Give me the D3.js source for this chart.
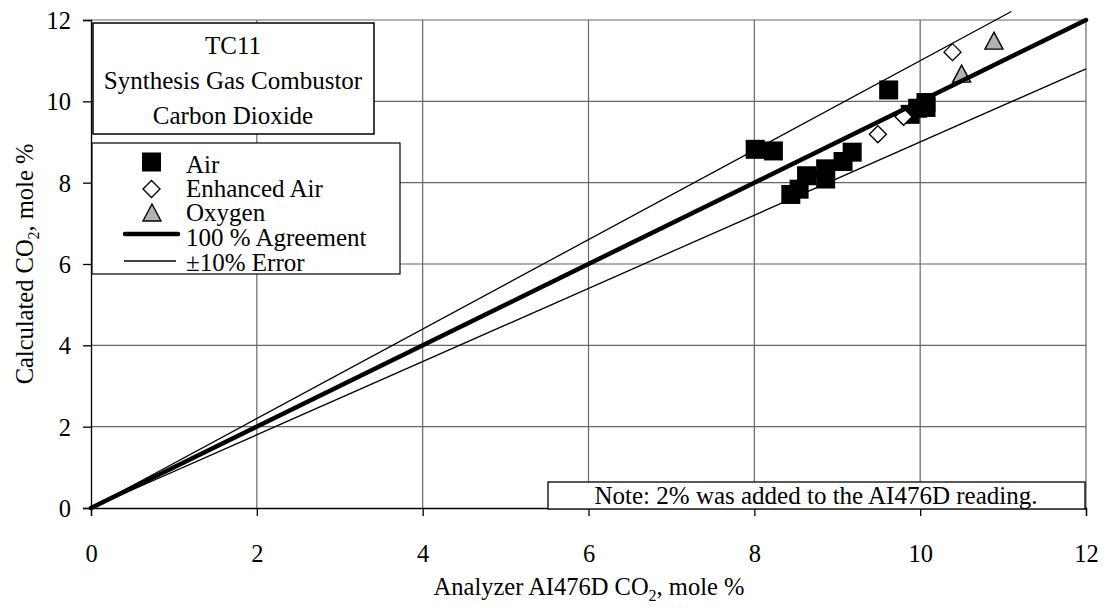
<!DOCTYPE html>
<html>
<head>
<meta charset="utf-8">
<script src="https://cdn.jsdelivr.net/npm/d3@7"></script>
<style>
  body { margin: 0; background: #fff; }
  text { font-family: "Liberation Serif", "Times New Roman", Times, serif; fill: #000; }
</style>
</head>
<body>
<svg id="chart"></svg>
<script>
// Data
const airX = [8.01, 8.23, 8.44, 8.54, 8.63, 8.86, 8.86, 9.07, 9.18, 9.62, 9.88, 9.97, 10.07, 10.07];
const airY = [8.82, 8.78, 7.71, 7.84, 8.17, 8.34, 8.09, 8.52, 8.75, 10.28, 9.68, 9.83, 9.97, 9.85];
const enhX = [9.49, 9.8, 10.39];
const enhY = [9.19, 9.62, 11.21];
const oxyX = [10.5, 10.89];
const oxyY = [10.67, 11.48];
const agreeX = [0, 12];
const upperX = [0, 11.1];
const lowerX = [0, 12];
const ticks = [0, 2, 4, 6, 8, 10, 12];
const titleLines = ["TC11", "Synthesis Gas Combustor", "Carbon Dioxide"];
const legendLabels = ["Air", "Enhanced Air", "Oxygen", "100 % Agreement", "\u00b110% Error"];

const width = 1106, height = 608;

const svg = d3.select("#chart")
  .attr("width", width)
  .attr("height", height);

const x = d3.scaleLinear().domain([0, 12]).range([91, 1086]);
const y = d3.scaleLinear().domain([0, 12]).range([508, 20]);

// grid
svg.append("g")
  .selectAll("line")
  .data(ticks.slice(1))
  .enter().append("line")
  .attr("x1", d => x(d)).attr("x2", d => x(d))
  .attr("y1", y(0)).attr("y2", y(12))
  .attr("stroke", "#666").attr("stroke-width", 1.2);

svg.append("g")
  .selectAll("line")
  .data(ticks.slice(1))
  .enter().append("line")
  .attr("x1", x(0)).attr("x2", x(12))
  .attr("y1", d => y(d)).attr("y2", d => y(d))
  .attr("stroke", "#666").attr("stroke-width", 1.2);

// axes
const xAxis = svg.append("g")
  .attr("transform", `translate(0,${y(0)})`)
  .call(d3.axisBottom(x).tickValues(ticks).tickSize(8).tickFormat(d3.format("d")));
const yAxis = svg.append("g")
  .attr("transform", `translate(${x(0)},0)`)
  .call(d3.axisLeft(y).tickValues(ticks).tickSize(8).tickFormat(d3.format("d")));

[xAxis, yAxis].forEach(a => {
  a.select(".domain").attr("stroke", "#000").attr("stroke-width", 1.3);
  a.selectAll(".tick line").attr("stroke", "#000").attr("stroke-width", 1.3);
  a.selectAll(".tick text")
    .style("font-family", "Liberation Serif")
    .style("font-size", "24.5px")
    .attr("fill", "#000");
});
xAxis.selectAll(".tick text").attr("y", 54).attr("dy", 0);
yAxis.selectAll(".tick text").attr("x", -20).attr("dy", "0.34em");

// reference lines
const line = d3.line().x(d => x(d[0])).y(d => y(d[1]));
svg.append("path")
  .attr("d", line(upperX.map(v => [v, v * 1.1])))
  .attr("fill", "none").attr("stroke", "#000").attr("stroke-width", 1.3);
svg.append("path")
  .attr("d", line(lowerX.map(v => [v, v * 0.9])))
  .attr("fill", "none").attr("stroke", "#000").attr("stroke-width", 1.3);

// markers
const sq = 19;
svg.append("g")
  .selectAll("rect")
  .data(airX.map((v, i) => [v, airY[i]]))
  .enter().append("rect")
  .attr("x", d => x(d[0]) - sq / 2)
  .attr("y", d => y(d[1]) - sq / 2)
  .attr("width", sq).attr("height", sq)
  .attr("fill", "#000");

const diamond = "M0,-8.5L8.5,0L0,8.5L-8.5,0Z";
svg.append("g")
  .selectAll("path")
  .data(enhX.map((v, i) => [v, enhY[i]]))
  .enter().append("path")
  .attr("d", diamond)
  .attr("transform", d => `translate(${x(d[0])},${y(d[1])})`)
  .attr("fill", "#fff").attr("stroke", "#000").attr("stroke-width", 1.4);

const tri = "M0,-9L9,8L-9,8Z";
svg.append("g")
  .selectAll("path")
  .data(oxyX.map((v, i) => [v, oxyY[i]]))
  .enter().append("path")
  .attr("d", tri)
  .attr("transform", d => `translate(${x(d[0])},${y(d[1])})`)
  .attr("fill", "#b3b3b3").attr("stroke", "#000").attr("stroke-width", 1.4);

// 100 % agreement line
svg.append("path")
  .attr("d", line(agreeX.map(v => [v, v])))
  .attr("fill", "none").attr("stroke", "#000").attr("stroke-width", 4.5)
  .attr("stroke-linecap", "round");

// title box
svg.append("rect")
  .attr("x", 93).attr("y", 23).attr("width", 281).attr("height", 111)
  .attr("fill", "#fff").attr("stroke", "#000").attr("stroke-width", 1.5);
svg.append("g")
  .selectAll("text")
  .data(titleLines)
  .enter().append("text")
  .attr("x", 233)
  .attr("y", (d, i) => 54 + i * 35)
  .attr("text-anchor", "middle")
  .style("font-size", "25px")
  .text(d => d);

// legend
svg.append("rect")
  .attr("x", 92).attr("y", 143).attr("width", 308).attr("height", 131)
  .attr("fill", "#fff").attr("stroke", "#000").attr("stroke-width", 1.2);

const legend = svg.append("g");
const ly = [162, 189, 213, 234, 261];
legend.append("rect")
  .attr("x", 142).attr("y", ly[0] - 9.5).attr("width", sq).attr("height", sq).attr("fill", "#000");
legend.append("path")
  .attr("d", diamond).attr("transform", `translate(151.5,${ly[1]})`)
  .attr("fill", "#fff").attr("stroke", "#000").attr("stroke-width", 1.4);
legend.append("path")
  .attr("d", tri).attr("transform", `translate(152,${ly[2]})`)
  .attr("fill", "#b3b3b3").attr("stroke", "#000").attr("stroke-width", 1.4);
legend.append("line")
  .attr("x1", 125).attr("x2", 178).attr("y1", ly[3]).attr("y2", ly[3])
  .attr("stroke", "#000").attr("stroke-width", 4.5).attr("stroke-linecap", "round");
legend.append("line")
  .attr("x1", 124).attr("x2", 176).attr("y1", ly[4]).attr("y2", ly[4])
  .attr("stroke", "#000").attr("stroke-width", 1.3);

const textBase = [173, 197, 221, 246, 271];
legend.selectAll("text")
  .data(legendLabels)
  .enter().append("text")
  .attr("x", 186)
  .attr("y", (d, i) => textBase[i])
  .style("font-size", "25px")
  .text(d => d);

// note box
svg.append("rect")
  .attr("x", 548).attr("y", 482).attr("width", 537).attr("height", 27)
  .attr("fill", "#fff").attr("stroke", "#000").attr("stroke-width", 1.3);
svg.append("text")
  .attr("x", 816).attr("y", 504)
  .attr("text-anchor", "middle")
  .style("font-size", "25px")
  .text("Note: 2% was added to the AI476D reading.");

// axis titles
const xt = svg.append("text")
  .attr("x", 589).attr("y", 595)
  .attr("text-anchor", "middle")
  .style("font-size", "24.5px");
xt.append("tspan").text("Analyzer AI476D CO");
xt.append("tspan").attr("dy", 6).style("font-size", "16px").text("2");
xt.append("tspan").attr("dy", -6).text(", mole %");

const yt = svg.append("text")
  .attr("transform", `translate(33,${y(6)}) rotate(-90)`)
  .attr("text-anchor", "middle")
  .style("font-size", "24.5px");
yt.append("tspan").text("Calculated CO");
yt.append("tspan").attr("dy", 6).style("font-size", "16px").text("2");
yt.append("tspan").attr("dy", -6).text(", mole %");
</script>
</body>
</html>
